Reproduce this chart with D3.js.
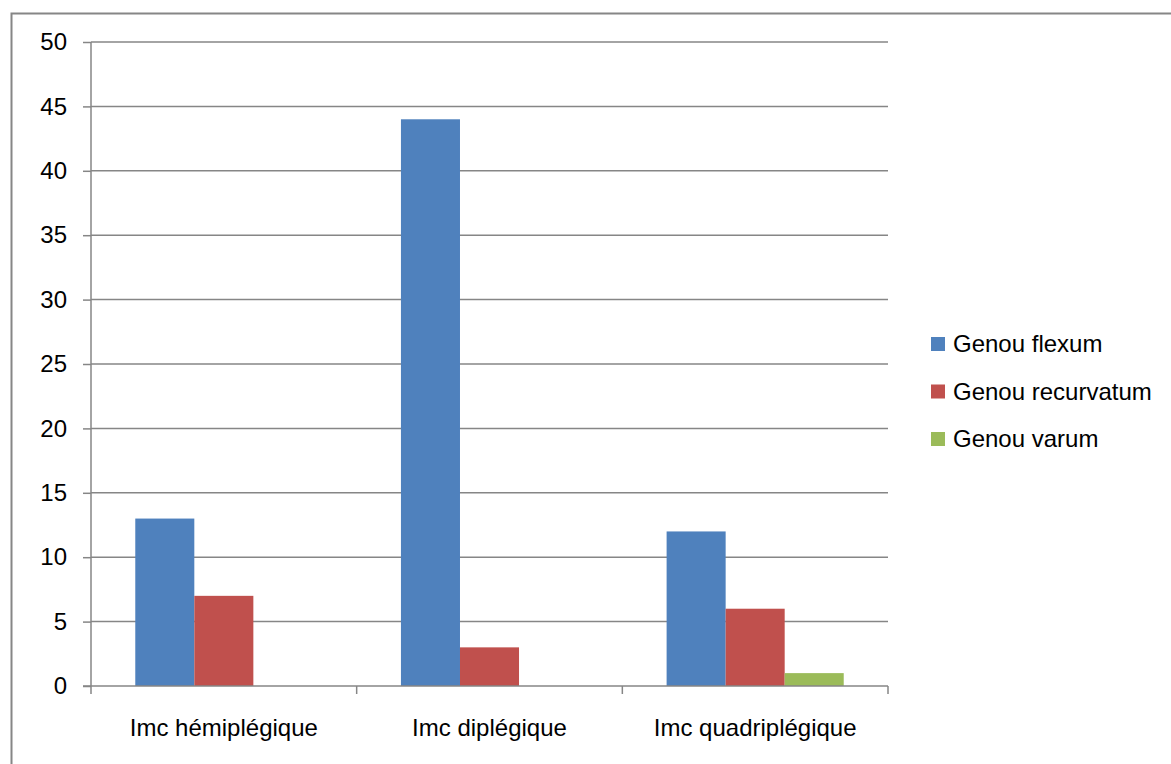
<!DOCTYPE html>
<html>
<head>
<meta charset="utf-8">
<script src="https://cdn.jsdelivr.net/npm/d3@7"></script>
<style>
  html, body { margin: 0; padding: 0; background: #fff; }
  svg { display: block; }
  text { font-family: "Liberation Sans", "DejaVu Sans", sans-serif; fill: #000; }
</style>
</head>
<body>
<svg id="chart" width="1171" height="764"></svg>
<script>
// Categories, series and axis ticks
const categories = ["Imc hémiplégique", "Imc diplégique", "Imc quadriplégique"];
const seriesNames = ["Genou flexum", "Genou recurvatum", "Genou varum"];
const flexum = [13, 44, 12];
const recurvatum = [7, 3, 6];
const varum = [0, 0, 1];
const yTicks = [0, 5, 10, 15, 20, 25, 30, 35, 40, 45, 50];

const seriesValues = [flexum, recurvatum, varum];
const colors = ["#4F81BD", "#C0504D", "#9BBB59"];
const FONT = 24;

const svg = d3.select("#chart");

// Outer chart frame
svg.append("rect")
  .attr("x", 11.5).attr("y", 13.5)
  .attr("width", 1200).attr("height", 800)
  .attr("fill", "none").attr("stroke", "#868686").attr("stroke-width", 2);

const plot = { left: 91, right: 888, top: 42, bottom: 686 };

const x0 = d3.scaleBand().domain(categories).range([plot.left, plot.right]).paddingInner(0).paddingOuter(0);
// 150% gap between groups: bar = band / (3 + 1.5)
const x1 = d3.scaleBand().domain(seriesNames)
  .range([0, x0.bandwidth()]).paddingInner(0).paddingOuter(0.75);
const y = d3.scaleLinear().domain([0, 50]).range([plot.bottom, plot.top]);

// Gridlines
svg.append("g").selectAll("line").data(yTicks.filter(d => d > 0)).join("line")
  .attr("x1", plot.left).attr("x2", plot.right)
  .attr("y1", d => y(d)).attr("y2", d => y(d))
  .attr("stroke", "#868686").attr("stroke-width", 1.5);

// Bars
const groups = svg.append("g").selectAll("g").data(categories).join("g")
  .attr("transform", c => `translate(${x0(c)},0)`);
groups.selectAll("rect")
  .data((c, i) => seriesNames.map((s, j) => ({ s, v: seriesValues[j][i], j })))
  .join("rect")
  .attr("x", d => x1(d.s))
  .attr("width", x1.bandwidth())
  .attr("y", d => y(d.v))
  .attr("height", d => y(0) - y(d.v))
  .attr("fill", d => colors[d.j]);

// Y axis
const yAxis = svg.append("g").attr("transform", `translate(${plot.left},0)`)
  .call(d3.axisLeft(y).tickValues(yTicks).tickSize(8).tickPadding(16).tickFormat(d3.format("d")));
yAxis.select(".domain").attr("stroke", "#868686").attr("stroke-width", 1.5).attr("d", `M0,${plot.top}V${plot.bottom}`);
yAxis.selectAll(".tick line").attr("stroke", "#868686").attr("stroke-width", 1.5);
yAxis.selectAll("text").attr("font-size", FONT).style("font-family", "'Liberation Sans', sans-serif");

// X axis with boundary ticks between categories
const xAxis = svg.append("g");
xAxis.append("line")
  .attr("x1", plot.left - 8).attr("x2", plot.right)
  .attr("y1", plot.bottom).attr("y2", plot.bottom)
  .attr("stroke", "#868686").attr("stroke-width", 1.5);
const bounds = categories.map(c => x0(c)).concat([x0(categories[categories.length - 1]) + x0.bandwidth()]);
xAxis.selectAll("line.tk").data(bounds).join("line").attr("class", "tk")
  .attr("x1", d => d).attr("x2", d => d)
  .attr("y1", plot.bottom).attr("y2", plot.bottom + 8)
  .attr("stroke", "#868686").attr("stroke-width", 1.5);
xAxis.selectAll("text").data(categories).join("text")
  .attr("x", c => x0(c) + x0.bandwidth() / 2)
  .attr("y", 736)
  .attr("text-anchor", "middle")
  .attr("font-size", FONT)
  .text(c => c);

// Legend
const legend = svg.append("g").selectAll("g").data(seriesNames).join("g")
  .attr("transform", (d, i) => `translate(931,${344 + i * 47.5})`);
legend.append("rect").attr("x", 0).attr("y", -7).attr("width", 14).attr("height", 14)
  .attr("fill", (d, i) => colors[i]);
legend.append("text").attr("x", 22).attr("y", 8).attr("font-size", FONT).text(d => d);
</script>
</body>
</html>
